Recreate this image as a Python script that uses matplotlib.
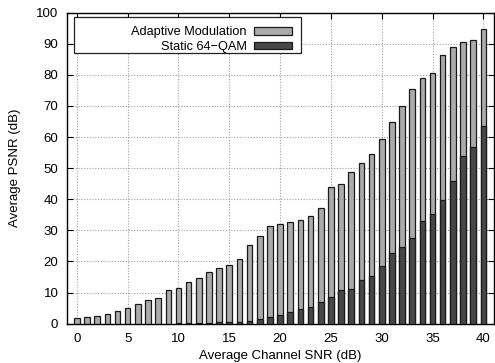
import matplotlib
matplotlib.use('Agg')
import matplotlib.pyplot as plt
from matplotlib.patches import Rectangle

plt.rcParams['font.family'] = ['Liberation Sans', 'DejaVu Sans']

# average channel SNR (dB)
snr = list(range(41))

# average PSNR (dB)
adaptive = [1.7, 2.1, 2.6, 3.2, 4.1, 5.2, 6.3, 7.7, 8.2, 10.8,
            11.5, 13.5, 14.8, 16.5, 17.8, 18.8, 20.9, 25.4, 28.2, 31.5,
            31.9, 32.8, 33.2, 34.5, 37.3, 44.0, 45.0, 48.8, 51.8, 54.7,
            59.3, 64.8, 69.9, 75.6, 78.9, 80.6, 86.5, 88.9, 90.5, 91.1, 94.7]
static = [0.0, 0.0, 0.0, 0.0, 0.0, 0.0, 0.0, 0.0, 0.0, 0.0,
          0.1, 0.2, 0.2, 0.3, 0.4, 0.5, 0.7, 0.9, 1.5, 2.1,
          2.7, 3.6, 4.8, 5.4, 6.9, 8.6, 10.7, 11.3, 13.9, 15.4,
          18.4, 22.8, 24.7, 27.5, 32.9, 35.4, 39.7, 46.0, 53.8, 56.7, 63.6]

fig, ax = plt.subplots(figsize=(4.95, 3.63), dpi=100)
fig.subplots_adjust(left=0.1347, right=0.997, bottom=0.1083, top=0.965)

ax.bar(snr, adaptive, width=0.55, color='#ababab', edgecolor='#1a1a1a',
       linewidth=0.9, zorder=3, label='Adaptive Modulation')
ax.bar(snr, static, width=0.55, color='#474747', edgecolor='#1a1a1a',
       linewidth=0.9, zorder=3, label='Static 64\u2212QAM')

ax.set_xlim(-1, 41)
ax.set_ylim(0, 100)
ax.set_xticks(range(0, 41, 5))
ax.set_yticks(range(0, 101, 10))
ax.tick_params(direction='in', length=4, width=0.8, top=True, right=True,
               labelsize=9.5)
ax.tick_params(axis='x', pad=7)
ax.tick_params(axis='y', pad=6)
ax.grid(True, linestyle=(0, (1, 1.5)), color='#a0a0a0', linewidth=0.8, zorder=0)
for s in ax.spines.values():
    s.set_linewidth(1.0)

ax.set_xlabel('Average Channel SNR (dB)', fontsize=9.5, labelpad=3)
ax.set_ylabel('Average PSNR (dB)', fontsize=9.5, labelpad=11)

# gnuplot-like key: white box, labels right aligned before the samples
ax.add_patch(Rectangle((0.017, 0.869), 0.532, 0.116, transform=ax.transAxes,
                       facecolor='white', edgecolor='#222222', linewidth=0.9,
                       zorder=4))
ax.legend(loc='upper right', bbox_to_anchor=(0.549, 0.985), frameon=False,
          markerfirst=False, fontsize=9.2, handlelength=2.95, handleheight=0.55,
          handletextpad=0.6, labelspacing=0.2, borderaxespad=0.3)

fig.savefig('out.png', dpi=100)
